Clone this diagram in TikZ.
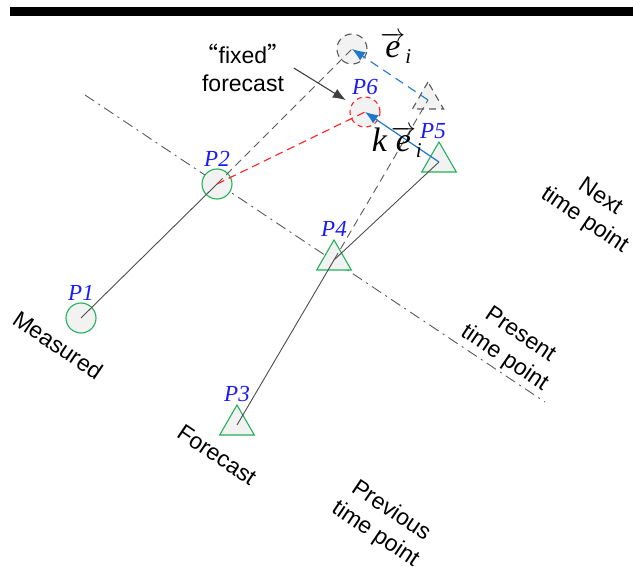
\documentclass[tikz,border=0pt]{standalone}
\usepackage{amsmath}
\usepackage{fontspec}
\setmainfont{Liberation Sans}
\newfontfamily\serifit{Liberation Serif}
\newfontfamily\cjk{Noto Sans CJK SC}
\usetikzlibrary{shapes.geometric, arrows.meta, positioning}

\definecolor{ptgreen}{HTML}{22B35A}
\definecolor{ptblue}{HTML}{1A1AFF}
\definecolor{arrblue}{HTML}{1F78C8}
\definecolor{ptred}{HTML}{FF2020}
\newcommand{\ivar}[1]{\text{\serifit\itshape #1}}
\newcommand{\isub}{\mbox{\fontsize{21}{21}\selectfont\serifit\itshape i}}

\begin{document}
\begin{tikzpicture} [x = 1pt, y = -1pt, font = \fontsize{23}{28}\selectfont,
  meas/.style = {draw = ptgreen, circle, fill = black!5, minimum size = 30pt, inner sep = 0pt, line width = 1.1pt},
  fcst/.style = {draw = ptgreen, regular polygon, regular polygon sides = 3, fill = black!5, minimum size = 40pt, inner sep = 0pt, line width = 1.1pt},
  ghostc/.style = {meas, draw = black!65, dash pattern = on 7pt off 5pt},
  ghostt/.style = {fcst, draw = black!65, dash pattern = on 7pt off 5pt, minimum size = 36pt},
  plabel/.style = {text = ptblue, font = \fontsize{23}{24}\selectfont\serifit\itshape, inner sep = 1pt},
  veclabel/.style = {font = \fontsize{34}{36}\selectfont, inner sep = 0pt},
  axis/.style = {rotate = -34, align = center},
  track/.style = {draw = black!70, line width = 0.9pt},
  naive/.style = {draw = black!65, line width = 0.9pt, dash pattern = on 8pt off 5pt},
  timeline/.style = {draw = black!65, line width = 0.9pt, dash pattern = on 11pt off 5pt on 2pt off 5pt}]
\useasboundingbox (0,0) rectangle (633,567);
\fill (10,7) rectangle (633,16);

\coordinate (tl) at (85,95);
\coordinate (tr) at (545,402);
\draw [timeline] (tl) -- (tr);

\node [meas] (p1) at (81,318) {};
\node [meas] (p2) at (217,184) {};
\node [fcst] (p3) at (237,425) {};
\node [fcst] (p4) at (334,260) {};
\node [fcst] (p5) at (439,162) {};
\node [ghostc] (g1) at (352,49) {};
\node [ghostt] (g2) at (428,100) {};
\node [meas, draw = ptred, dash pattern = on 5pt off 4pt] (p6) at (365,112) {};

\node [plabel, above = 1pt of p1] {P1};
\node [plabel, above = 1pt of p2] {P2};
\node [plabel, above = 1pt of p3.north] {P3};
\node [plabel, above = 1pt of p4.north] {P4};
\node [plabel, above right = 1pt and -20pt of p5.north] {P5};
\node [plabel, above = 1pt of p6] {P6};

\draw [track] (p1.center) -- (p2.center);
\draw [track] (p3.center) -- (p4.center) -- (p5.center);
\draw [naive] (p2.center) -- (g1.center);
\draw [naive] (p4.center) -- (g2.center);
\draw [draw = ptred, line width = 1.1pt, dash pattern = on 8pt off 5pt] (p2.center) -- (p6.center);
\draw [draw = arrblue, line width = 1.1pt, dash pattern = on 9pt off 6pt, -{Latex[length=13pt, width=10pt]}] (g2.center) -- (g1.center);
\draw [draw = arrblue, line width = 1.2pt, -{Latex[length=13pt, width=10pt]}] (p5.center) -- (p6.center);

\node [veclabel] (ei) at (396,48) {$\overrightarrow{\ivar{e}}_{\isub}$};
\node [veclabel] (kei) at (397,142) {$\ivar{k}\,\overrightarrow{\ivar{e}}_{\isub}$};

\node [align = center] (fixed) at (243,68) {{\cjk “}fixed{\cjk ”}\\forecast};
\draw [draw = black!75, line width = 1.1pt, shorten >= 7pt, -{Latex[length=13pt, width=10pt]}] (fixed.east) -- (p6);

\node [axis] (measured) at (58,345) {Measured};
\node [axis] (forecast) at (217,455) {Forecast};
\node [axis] (prev) at (383,523) {Previous\\time point};
\node [axis] (present) at (512,347) {Present\\time point};
\node [axis] (next) at (592,209) {Next\\time point};
\end{tikzpicture}
\end{document}
